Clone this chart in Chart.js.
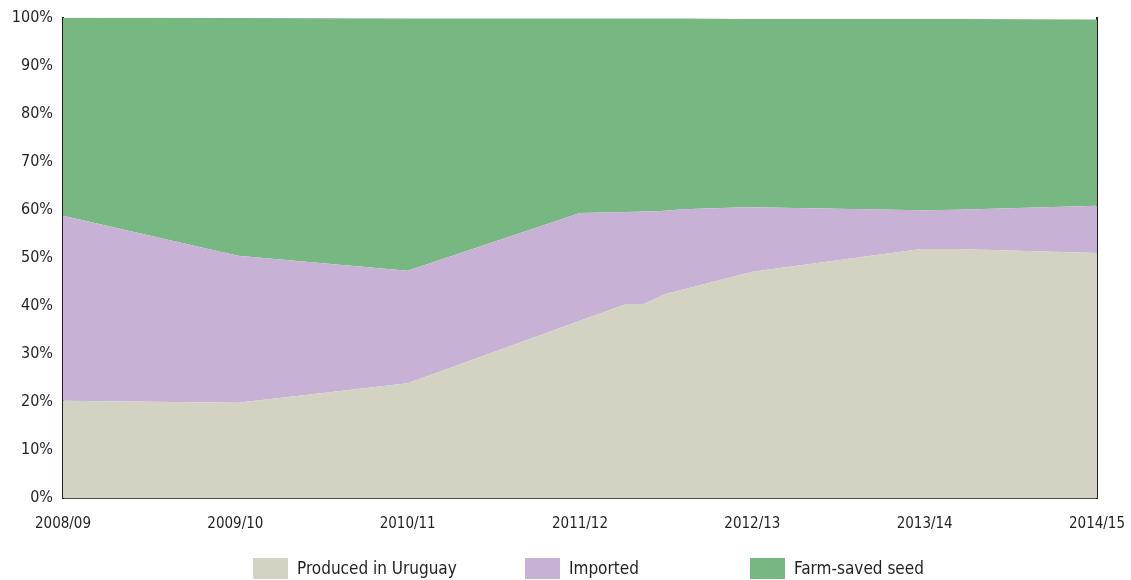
<!DOCTYPE html>
<html>
<head>
<meta charset="utf-8">
<script src="https://cdn.jsdelivr.net/npm/chart.js@4.4.1/dist/chart.umd.min.js"></script>
<style>
  html, body { margin: 0; padding: 0; background: #fff; }
  #wrap { width: 1131px; height: 580px; position: relative; }
  #legend { position: absolute; left: 0; top: 557px; width: 1131px; height: 22px;
            font-family: 'Liberation Sans Narrow', 'DejaVu Sans Condensed', sans-serif;
            font-size: 17px; color: #231f20; }
  #legend .item { position: absolute; top: 0; display: flex; align-items: center; height: 22px; white-space: nowrap; }
  #legend .box { width: 35px; height: 21px; margin-right: 9px; }
</style>
</head>
<body>
<div id="wrap"><canvas id="myChart"></canvas><div id="legend"></div></div>
<script>
// season labels on the x axis
const seasons = ['2008/09', '2009/10', '2010/11', '2011/12', '2012/13', '2013/14', '2014/15'];

// position of each traced point, in seasons from 2008/09
const positions = [0, 1.015, 2, 3, 3.27, 3.37, 3.45, 3.49, 3.6, 3.96, 4, 4.98, 5.19, 6];

// share of seed (%)
const produced  = [20.25, 19.8, 23.9, 36.9, 40.4, 40.4, 41.7, 42.4, 43.4, 46.7, 47.1, 51.8, 51.8, 51.0];
const imported  = [38.5, 30.6, 23.4, 22.4, 19.1, 19.2, 18.0, 17.4, 16.7, 13.8, 13.4, 8.1, 8.2, 9.8];
const farmSaved = [41.25, 49.5, 52.5, 40.5, 40.3, 40.2, 40.1, 40.0, 39.7, 39.2, 39.2, 39.8, 39.7, 38.8];

const yTicks = [0, 10, 20, 30, 40, 50, 60, 70, 80, 90, 100];

const font = "'Liberation Sans Narrow', 'DejaVu Sans Condensed', sans-serif";
const ink = '#231f20';

const points = vals => vals.map((v, i) => ({ x: positions[i], y: v }));

const ctx = document.getElementById('myChart').getContext('2d');
const myChart = new Chart(ctx, {
    type: 'line',
    data: {
        datasets: [{
            label: 'Produced in Uruguay',
            data: points(produced),
            backgroundColor: '#d3d2c3',
            borderWidth: 0,
            fill: 'origin'
        }, {
            label: 'Imported',
            data: points(imported),
            backgroundColor: '#c7b1d5',
            borderWidth: 0,
            fill: '-1'
        }, {
            label: 'Farm-saved seed',
            data: points(farmSaved),
            backgroundColor: '#77b882',
            borderWidth: 0,
            fill: '-1'
        }]
    },
    options: {
        responsive: true,
        maintainAspectRatio: false,
        animation: false,
        elements: { point: { radius: 0 }, line: { tension: 0 } },
        layout: { padding: { top: 17.5, right: 34, left: 0, bottom: 38 } },
        plugins: {
            tooltip: { enabled: false },
            legend: { display: false }
        },
        scales: {
            x: {
                type: 'linear',
                min: 0,
                max: 6,
                afterBuildTicks: s => { s.ticks = seasons.map((_, i) => ({ value: i })); },
                afterFit: s => { s.height = 44; s.paddingLeft = 0; s.paddingRight = 0; },
                ticks: {
                    color: ink,
                    padding: 17,
                    maxRotation: 0,
                    autoSkip: false,
                    font: { family: font, size: 15 },
                    callback: v => seasons[v]
                },
                grid: { display: false, drawTicks: false },
                border: { display: true, color: '#4d4d4d', width: 2 }
            },
            y: {
                stacked: true,
                min: 0,
                max: 100,
                afterBuildTicks: s => { s.ticks = yTicks.map(v => ({ value: v })); },
                afterFit: s => { s.width = 63; s.paddingTop = 0; s.paddingBottom = 0; },
                ticks: {
                    color: ink,
                    padding: 10,
                    font: { family: font, size: 16 },
                    callback: v => v + '%'
                },
                grid: { display: false, drawTicks: false },
                border: { display: true, color: ink, width: 2 }
            },
            yRight: {
                position: 'right',
                min: 0,
                max: 100,
                afterFit: s => { s.width = 0; s.paddingTop = 0; s.paddingBottom = 0; },
                ticks: { display: false },
                grid: { display: false, drawTicks: false },
                border: { display: true, color: ink, width: 2 }
            }
        }
    }
});

// legend under the chart, one item per dataset
const legendLeft = [253, 525, 750];
const legendEl = document.getElementById('legend');
myChart.data.datasets.forEach((ds, i) => {
    const item = document.createElement('div');
    item.className = 'item';
    item.style.left = legendLeft[i] + 'px';
    const box = document.createElement('span');
    box.className = 'box';
    box.style.background = ds.backgroundColor;
    item.appendChild(box);
    item.appendChild(document.createTextNode(ds.label));
    legendEl.appendChild(item);
});
</script>
</body>
</html>
